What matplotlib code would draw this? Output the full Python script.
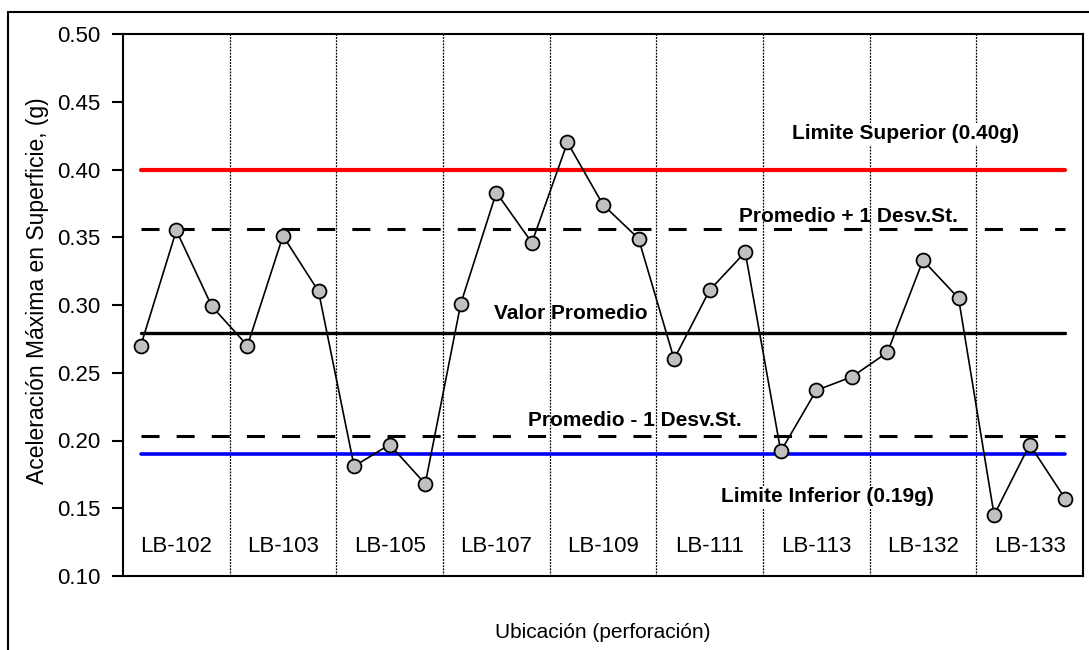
import numpy as np
import matplotlib
matplotlib.use("Agg")
import matplotlib.pyplot as plt
from matplotlib.patches import Rectangle

plt.rcParams['font.family'] = ['Liberation Sans', 'DejaVu Sans']

# data
sondeos = ['LB-102', 'LB-103', 'LB-105', 'LB-107', 'LB-109',
           'LB-111', 'LB-113', 'LB-132', 'LB-133']
acel = [0.270, 0.355, 0.299,
        0.270, 0.351, 0.310,
        0.181, 0.197, 0.168,
        0.301, 0.383, 0.346,
        0.420, 0.374, 0.349,
        0.260, 0.311, 0.339,
        0.192, 0.237, 0.247,
        0.265, 0.333, 0.305,
        0.145, 0.197, 0.157]
lim_sup = 0.40
lim_inf = 0.19
promedio = 0.279
prom_mas = 0.356
prom_menos = 0.203
yticks = [0.10, 0.15, 0.20, 0.25, 0.30, 0.35, 0.40, 0.45, 0.50]

n_por = 3
x = np.arange(len(acel))
xr = [x[0], x[-1]]

fig = plt.figure(figsize=(10.89, 6.5), dpi=100)
ax = fig.add_axes([123/1089, 1 - 576/650, 960/1089, 542/650])

# outer frame (extends past the right / bottom edges)
fig.patches.append(Rectangle((8/1089, -0.05), 1.1, 1 - 12/650 + 0.05,
                             transform=fig.transFigure, fill=False,
                             edgecolor='black', linewidth=1.5, clip_on=False))

# separators between boreholes
for i in range(1, len(sondeos)):
    ax.axvline(i*n_por - 0.5, color='black', lw=0.9, ls=(0, (1.5, 1)), zorder=1)

# reference lines
ax.plot(xr, [lim_sup]*2, color='#ff0000', lw=3.0, solid_capstyle='round', zorder=2)
ax.plot(xr, [lim_inf]*2, color='#0000ff', lw=2.6, solid_capstyle='round', zorder=2)
ax.plot(xr, [promedio]*2, color='black', lw=2.4, solid_capstyle='round', zorder=2)
ax.plot(xr, [prom_mas]*2, color='black', lw=2.2, dashes=(5.9, 5.6), zorder=2)
ax.plot(xr, [prom_menos]*2, color='black', lw=2.2, dashes=(5.9, 5.6), zorder=2)

# data
ax.plot(x, acel, color='black', lw=1.2, marker='o', markersize=10,
        markerfacecolor='#c0c0c0', markeredgecolor='black',
        markeredgewidth=1.3, zorder=4)

# labels of the lines
bold = dict(fontsize=15, fontweight='bold', ha='center', va='center', zorder=3)
ax.text(21.5, 0.4265, 'Limite Superior (0.40g)',
        bbox=dict(facecolor='white', edgecolor='none', pad=1), **bold)
ax.text(19.9, 0.3655, 'Promedio + 1 Desv.St.', **bold)
ax.text(12.1, 0.2935, 'Valor Promedio', **bold)
ax.text(13.9, 0.2145, 'Promedio - 1 Desv.St.', **bold)
ax.text(19.3, 0.1585, 'Limite Inferior (0.19g)',
        bbox=dict(facecolor='white', edgecolor='none', pad=1), **bold)

# borehole names
for i, s in enumerate(sondeos):
    ax.text(i*n_por + 1, 0.1215, s, fontsize=16, ha='center', va='center')

ax.set_xlim(-0.5, len(acel) - 0.5)
ax.set_ylim(0.10, 0.50)
ax.set_yticks(yticks)
ax.set_yticklabels(['%.2f' % v for v in yticks], fontsize=16)
ax.set_xticks([])
ax.tick_params(axis='y', direction='out', length=8, width=1.5, pad=8)
for sp in ax.spines.values():
    sp.set_linewidth(1.5)

ax.set_ylabel('Aceleración Máxima en Superficie, (g)', fontsize=16.5)
ax.yaxis.set_label_coords(-74/960, 0.526)
fig.text(603/1089, 1 - 632/650, 'Ubicación (perforación)', fontsize=15,
         ha='center', va='center')

fig.savefig('out.png', dpi=100)
